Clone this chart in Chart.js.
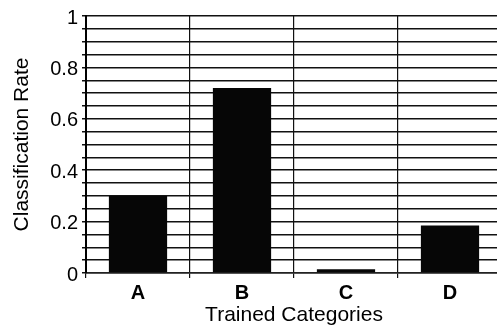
<!DOCTYPE html>
<html>
<head>
<meta charset="utf-8">
<script src="https://cdn.jsdelivr.net/npm/chart.js@4"></script>
<style>
    html, body { margin: 0; padding: 0; background: #fff; overflow: hidden; }
    #wrap { width: 497px; height: 328px; overflow: hidden; }
</style>
</head>
<body>
<div id="wrap"><canvas id="chart" width="502" height="328"></canvas></div>
<script>
'use strict';

const categories = ['A', 'B', 'C', 'D'];
const rates = [0.30, 0.72, 0.015, 0.185];
const yTickLabels = ['0', '0.2', '0.4', '0.6', '0.8', '1'];

const INK = '#111';
const FONT = '"Liberation Sans", Arial, Helvetica, sans-serif';

// the plot runs a few pixels past the right edge of the picture, so the canvas is a bit wider than the window
new Chart(document.getElementById('chart'), {
    type: 'bar',
    data: {
        labels: categories,
        datasets: [{ data: rates, backgroundColor: '#060606', barPercentage: 0.56, categoryPercentage: 1 }]
    },
    options: {
        responsive: false,
        animation: false,
        layout: { padding: { top: 14, right: 0, left: 0, bottom: 0 } },
        plugins: { legend: { display: false }, tooltip: { enabled: false } },
        scales: {
            x: {
                afterFit: scale => { scale.height = 55; },
                grid: {
                    offset: true,
                    // the closing line after the last category has no tick context
                    color: ctx => (ctx.index === undefined ? 'transparent' : INK),
                    lineWidth: 1.2,
                    tickLength: 5
                },
                border: { color: '#222', width: 1.5 },
                ticks: { color: '#000', padding: 3, font: { family: FONT, size: 20, weight: 'bold' } },
                title: {
                    display: true,
                    text: 'Trained Categories',
                    color: '#000',
                    padding: { top: 0, bottom: 0 },
                    font: { family: FONT, size: 21 }
                }
            },
            y: {
                min: 0,
                max: 1,
                afterFit: scale => { scale.width = 86; },
                grid: { color: INK, lineWidth: 1.5, tickLength: 4 },
                border: { color: '#000', width: 2 },
                ticks: {
                    stepSize: 0.05,
                    autoSkip: false,
                    padding: 4,
                    labelOffset: 2,
                    color: '#000',
                    font: { family: FONT, size: 20 },
                    callback: value => {
                        let text = String(+value.toFixed(2));
                        return yTickLabels.includes(text) ? text : '';
                    }
                },
                title: {
                    display: true,
                    text: 'Classification Rate',
                    color: '#000',
                    padding: { top: 10, bottom: 0 },
                    font: { family: FONT, size: 21 }
                }
            }
        }
    }
});
</script>
</body>
</html>
